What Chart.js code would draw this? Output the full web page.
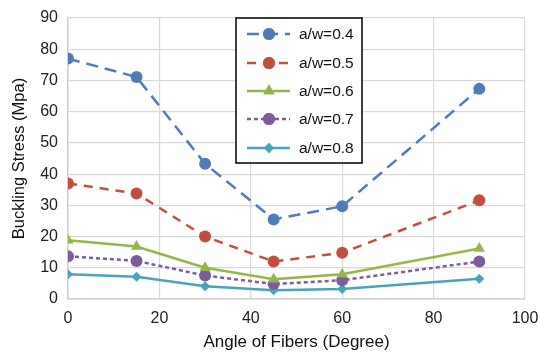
<!DOCTYPE html>
<html>
<head>
<meta charset="utf-8">
<script src="https://cdn.jsdelivr.net/npm/chart.js@4.4.0/dist/chart.umd.min.js"></script>
<style>
  html, body { margin: 0; padding: 0; background: #fff; }
  #wrap { width: 539px; height: 353px; }
</style>
</head>
<body>
<div id="wrap"><canvas id="line-chart" width="539" height="353"></canvas></div>
<script>
// angles of fibers (degree)
const angles = [0, 15, 30, 45, 60, 90];

const seriesNames = ["a/w=0.4", "a/w=0.5", "a/w=0.6", "a/w=0.7", "a/w=0.8"];

const aw04 = [77, 71.1, 43.3, 25.5, 29.7, 67.3];
const aw05 = [37, 33.8, 20, 12, 14.8, 31.6];
const aw06 = [18.8, 16.8, 10, 6.3, 7.9, 16.2];
const aw07 = [13.7, 12.2, 7.5, 4.8, 6, 12];
const aw08 = [7.9, 7.1, 4.1, 2.8, 3.2, 6.5];

const xTicks = [0, 20, 40, 60, 80, 100];
const yTicks = [0, 10, 20, 30, 40, 50, 60, 70, 80, 90];

const colores = ["#4F7CB9", "#C24E40", "#93B847", "#7D5B9E", "#46A5B9"];
const dashes = [[12, 7], [9, 7], [], [4, 3], []];
const puntos = ["circle", "circle", "triangle", "circle", "rectRot"];
const radios = [6, 6, 6.5, 6, 5];

const allSeries = [aw04, aw05, aw06, aw07, aw08];

const datasets = allSeries.map((serie, i) => ({
  label: seriesNames[i],
  data: serie.map((v, j) => ({ x: angles[j], y: v })),
  borderColor: colores[i],
  backgroundColor: colores[i],
  borderWidth: 2.5,
  borderDash: dashes[i],
  pointStyle: puntos[i],
  pointRadius: radios[i],
  pointBorderWidth: 0,
  pointHoverRadius: radios[i],
  tension: 0,
}));

// legend box drawn by hand so it sits inside the plot like the original
const legendBox = {
  id: "legendBox",
  afterDraw(chart) {
    const ctx = chart.ctx;
    const x0 = 236, y0 = 18, w = 126, h = 145;
    ctx.save();
    ctx.fillStyle = "#fff";
    ctx.fillRect(x0, y0, w, h);
    ctx.strokeStyle = "#000";
    ctx.lineWidth = 1.5;
    ctx.strokeRect(x0, y0, w, h);
    const rowsY = [34, 63, 91, 119, 148];
    chart.data.datasets.forEach((ds, i) => {
      const y = rowsY[i];
      ctx.strokeStyle = ds.borderColor;
      ctx.lineWidth = 2.5;
      ctx.setLineDash(ds.borderDash);
      ctx.beginPath();
      ctx.moveTo(247, y);
      ctx.lineTo(290, y);
      ctx.stroke();
      ctx.setLineDash([]);
      ctx.fillStyle = ds.borderColor;
      ctx.beginPath();
      Chart.helpers.drawPoint(ctx, {
        pointStyle: ds.pointStyle,
        radius: ds.pointRadius,
        borderWidth: 0,
        rotation: 0,
      }, 269, y);
      ctx.fill();
      ctx.fillStyle = "#111";
      ctx.font = "15.5px 'Liberation Sans', Arial, sans-serif";
      ctx.textBaseline = "middle";
      ctx.fillText(ds.label, 299, y + 1);
    });
    ctx.restore();
  },
};

const fuente = { family: "'Liberation Sans', Arial, sans-serif", size: 16 };

const lineChart = new Chart(document.querySelector("#line-chart").getContext("2d"), {
  type: "line",
  data: { datasets: datasets },
  options: {
    responsive: false,
    animation: false,
    layout: { padding: { top: 18, right: 14, left: 0, bottom: 0 } },
    plugins: {
      legend: { display: false },
      tooltip: { enabled: false },
    },
    scales: {
      x: {
        type: "linear",
        min: 0,
        max: 100,
        afterBuildTicks: (s) => { s.ticks = xTicks.map((v) => ({ value: v })); },
        afterFit: (s) => { s.height = 54; s.paddingLeft = 0; s.paddingRight = 0; },
        ticks: { color: "#222", font: fuente, padding: 10, maxRotation: 0 },
        grid: { color: "#d9d9d9", lineWidth: 1.2, drawTicks: false },
        border: { color: "#d0d0d0", width: 1.5 },
        title: {
          display: true,
          text: "Angle of Fibers (Degree)",
          color: "#111",
          font: { family: fuente.family, size: 17 },
          padding: { top: 1, bottom: 0 },
        },
      },
      y: {
        min: 0,
        max: 90,
        afterBuildTicks: (s) => { s.ticks = yTicks.map((v) => ({ value: v })); },
        afterFit: (s) => { s.width = 68; s.paddingTop = 0; s.paddingBottom = 0; },
        ticks: { color: "#222", font: fuente, padding: 10 },
        grid: { color: "#d9d9d9", lineWidth: 1.2, drawTicks: false },
        border: { color: "#d0d0d0", width: 1.5 },
        title: {
          display: true,
          text: "Buckling Stress (Mpa)",
          color: "#111",
          font: { family: fuente.family, size: 16.5 },
          padding: { top: 10, bottom: 0 },
        },
      },
    },
  },
  plugins: [legendBox],
});
</script>
</body>
</html>
